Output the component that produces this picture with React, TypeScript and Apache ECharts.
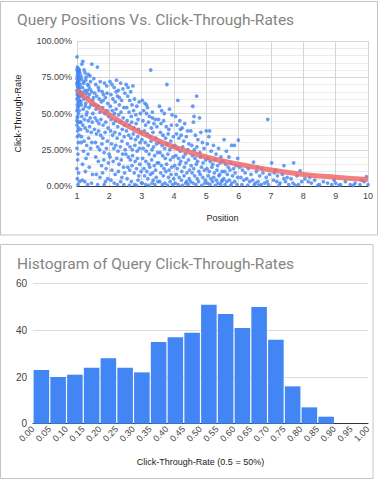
import React, { useEffect, useRef } from "react";
import * as echarts from "echarts";

// Scatter: [position, click-through-rate %]
const ctrPoints: [number, number][] = [
  // x 1.00-1.12
  [1.00,89],[1.01,82],[1.00,80],[1.02,78],[1.01,76],[1.03,79],[1.00,74],[1.02,72],[1.04,81],[1.01,70],[1.03,68],[1.00,66],[1.05,77],[1.02,64],[1.04,62],[1.00,60],[1.06,75],[1.03,58],[1.01,56],[1.05,71],[1.07,80],[1.02,54],[1.00,52],[1.04,50],[1.08,73],[1.01,47],[1.03,44],[1.00,42],[1.06,67],[1.09,78],[1.02,38],[1.05,61],[1.01,34],[1.04,30],[1.00,26],[1.07,63],[1.03,22],[1.10,70],[1.02,18],[1.00,12],[1.05,9],[1.01,5],[1.08,3],[1.03,1],[1.11,65],[1.06,57],[1.12,76],[1.09,59],[1.00,71],[1.02,69],[1.04,73],[1.01,63],[1.06,79],[1.03,75],[1.08,68],[1.10,62],[1.05,55],[1.07,52],[1.12,58],[1.00,45],[1.02,48],[1.04,40],[1.06,35],[1.09,44],[1.11,39],
  // x 1.12-1.5
  [1.15,84],[1.18,86],[1.22,80],[1.25,78],[1.14,74],[1.20,72],[1.28,75],[1.33,70],[1.17,68],[1.24,66],[1.30,64],[1.36,69],[1.42,72],[1.46,84],[1.40,67],[1.16,62],[1.21,60],[1.27,57],[1.34,61],[1.38,63],[1.45,65],[1.48,59],[1.13,56],[1.19,53],[1.26,55],[1.31,51],[1.37,54],[1.43,56],[1.49,50],[1.15,48],[1.23,46],[1.29,49],[1.35,45],[1.41,47],[1.47,44],[1.18,42],[1.25,40],[1.32,38],[1.39,41],[1.44,37],[1.14,34],[1.22,31],[1.30,28],[1.36,33],[1.46,30],[1.20,24],[1.28,19],[1.34,22],[1.42,26],[1.17,15],[1.26,10],[1.38,13],[1.48,8],[1.16,4],[1.24,3],[1.33,1],[1.45,2],[1.12,44],[1.13,30],[1.40,76],[1.35,77],[1.27,73],[1.21,71],[1.19,64],[1.32,66],
  // x 1.5-2.0
  [1.52,74],[1.58,70],[1.63,82],[1.66,68],[1.72,72],[1.78,65],[1.85,71],[1.92,69],[1.55,64],[1.61,62],[1.69,60],[1.75,58],[1.82,63],[1.88,61],[1.95,57],[1.53,56],[1.59,53],[1.65,55],[1.71,51],[1.79,54],[1.86,50],[1.93,52],[1.98,48],[1.56,47],[1.62,45],[1.68,43],[1.74,46],[1.81,42],[1.89,44],[1.96,40],[1.54,39],[1.60,36],[1.67,38],[1.73,35],[1.80,33],[1.87,37],[1.94,31],[1.57,30],[1.64,27],[1.70,25],[1.77,29],[1.84,23],[1.91,26],[1.99,22],[1.58,20],[1.66,17],[1.76,14],[1.83,18],[1.90,12],[1.97,16],[1.60,8],[1.71,6],[1.79,9],[1.88,3],[1.95,5],[1.64,1],[1.84,1],[1.51,61],[1.68,66],[1.81,59],[1.93,64],
  // x 2.0-2.5
  [2.02,72],[2.08,70],[2.15,68],[2.22,73],[2.28,66],[2.35,71],[2.42,67],[2.48,64],[2.05,63],[2.11,60],[2.18,58],[2.25,62],[2.31,56],[2.38,59],[2.45,54],[2.03,55],[2.09,52],[2.16,50],[2.21,53],[2.29,49],[2.36,51],[2.43,47],[2.06,46],[2.13,43],[2.19,45],[2.26,41],[2.33,44],[2.40,39],[2.47,42],[2.04,38],[2.10,35],[2.17,37],[2.24,33],[2.32,36],[2.39,31],[2.46,34],[2.07,29],[2.14,26],[2.20,28],[2.27,24],[2.34,27],[2.41,22],[2.49,25],[2.02,20],[2.12,17],[2.23,19],[2.30,15],[2.37,18],[2.44,13],[2.08,11],[2.18,8],[2.28,10],[2.39,6],[2.47,9],[2.05,4],[2.15,2],[2.25,1],[2.35,3],[2.45,1],[2.21,65],[2.31,61],
  // x 2.5-3.0
  [2.52,70],[2.58,68],[2.66,65],[2.73,69],[2.57,62],[2.63,59],[2.70,56],[2.78,60],[2.85,55],[2.92,58],[2.54,54],[2.61,51],[2.68,48],[2.75,52],[2.82,49],[2.89,46],[2.96,50],[2.55,45],[2.62,42],[2.69,44],[2.76,40],[2.83,43],[2.90,39],[2.97,37],[2.53,38],[2.60,35],[2.67,33],[2.74,36],[2.81,32],[2.88,34],[2.95,30],[2.56,29],[2.64,27],[2.71,25],[2.79,28],[2.86,24],[2.93,26],[2.51,22],[2.59,20],[2.65,18],[2.72,21],[2.80,17],[2.87,19],[2.94,15],[2.57,13],[2.63,11],[2.70,14],[2.77,9],[2.84,12],[2.91,7],[2.98,10],[2.55,5],[2.68,3],[2.78,1],[2.89,4],[2.99,2],[2.62,0.5],[2.84,0.5],
  // x 3.0-3.5
  [3.02,59],[3.10,57],[3.28,80],[3.18,54],[3.06,52],[3.15,50],[3.24,48],[3.33,51],[3.42,46],[3.04,45],[3.12,42],[3.21,44],[3.30,40],[3.38,43],[3.47,41],[3.08,38],[3.17,36],[3.26,34],[3.35,37],[3.44,33],[3.01,32],[3.11,30],[3.20,28],[3.29,31],[3.37,27],[3.46,29],[3.05,26],[3.14,24],[3.23,22],[3.32,25],[3.40,21],[3.49,23],[3.03,19],[3.13,17],[3.22,15],[3.31,18],[3.39,14],[3.48,16],[3.07,12],[3.16,10],[3.25,13],[3.34,9],[3.43,11],[3.09,7],[3.19,5],[3.27,8],[3.36,4],[3.45,6],[3.02,2],[3.12,1],[3.22,0.5],[3.32,2],[3.41,1],[3.50,3],[3.15,56],[3.33,47],
  // x 3.5-4.0
  [3.55,55],[3.62,52],[3.78,70],[3.70,50],[3.86,53],[3.94,49],[3.52,46],[3.60,43],[3.68,45],[3.76,41],[3.84,39],[3.92,42],[3.58,37],[3.66,35],[3.74,33],[3.82,36],[3.90,31],[3.98,34],[3.54,30],[3.63,28],[3.71,26],[3.79,29],[3.87,25],[3.95,27],[3.57,23],[3.65,21],[3.73,19],[3.81,22],[3.89,18],[3.97,20],[3.53,16],[3.61,14],[3.69,12],[3.77,15],[3.85,11],[3.93,13],[3.59,9],[3.67,7],[3.75,10],[3.83,6],[3.91,8],[3.99,5],[3.56,3],[3.64,1],[3.72,2],[3.80,0.5],[3.88,3],[3.96,1],
  // x 4.0-4.5
  [4.12,59],[4.05,48],[4.18,45],[4.25,40],[4.33,43],[4.42,38],[4.08,36],[4.15,33],[4.22,35],[4.30,31],[4.38,34],[4.46,29],[4.03,28],[4.11,26],[4.19,24],[4.27,27],[4.35,22],[4.43,25],[4.06,21],[4.14,19],[4.21,17],[4.29,20],[4.37,16],[4.45,18],[4.02,14],[4.10,12],[4.17,15],[4.24,10],[4.32,13],[4.40,9],[4.48,11],[4.07,8],[4.16,6],[4.23,4],[4.31,7],[4.39,3],[4.47,5],[4.04,2],[4.13,1],[4.26,0.5],[4.36,2],[4.44,1],[4.20,39],[4.09,42],
  // x 4.5-5.0
  [4.70,62],[4.58,55],[4.79,47],[4.62,48],[4.52,38],[4.66,35],[4.74,32],[4.88,30],[4.55,28],[4.63,25],[4.71,27],[4.80,23],[4.93,26],[4.57,21],[4.65,19],[4.73,17],[4.82,20],[4.90,16],[4.98,18],[4.53,14],[4.61,12],[4.69,15],[4.77,10],[4.85,13],[4.94,11],[4.56,9],[4.64,7],[4.72,5],[4.81,8],[4.89,6],[4.97,4],[4.51,3],[4.59,2],[4.68,1],[4.76,3],[4.86,0.5],[4.95,2],[4.60,44],[4.83,37],
  // x 5.0-5.5
  [5.00,38],[5.10,38],[5.08,34],[5.03,29],[5.15,24],[5.22,28],[5.30,22],[5.38,26],[5.45,20],[5.05,19],[5.12,17],[5.20,15],[5.27,18],[5.35,14],[5.43,16],[5.02,12],[5.09,10],[5.17,13],[5.25,9],[5.33,11],[5.41,8],[5.49,10],[5.06,7],[5.14,5],[5.23,6],[5.31,4],[5.39,7],[5.47,3],[5.04,2],[5.11,1],[5.19,3],[5.28,0.5],[5.36,2],[5.44,1],[5.50,4],
  // x 5.5-6.0
  [5.55,32],[5.78,28],[5.87,28],[5.97,19],[5.62,24],[5.70,20],[5.52,17],[5.60,15],[5.68,13],[5.76,16],[5.84,12],[5.92,14],[5.57,10],[5.65,8],[5.73,11],[5.81,7],[5.89,9],[5.97,6],[5.54,5],[5.63,3],[5.71,4],[5.79,2],[5.88,3],[5.95,1],[5.58,1],[5.75,0.5],[5.99,31.7],
  // x 6.0-7.0
  [6.03,13],[6.12,11],[6.20,9],[6.30,12],[6.46,16.5],[6.38,8],[6.55,10],[6.65,7],[6.75,9],[6.85,6],[6.95,8],[6.90,46],[6.07,6],[6.16,4],[6.25,5],[6.34,3],[6.43,4],[6.52,2],[6.60,3],[6.70,1],[6.80,2],[6.92,1],[6.10,1],[6.28,0.5],[6.48,1],[6.62,0.5],[6.88,3],[6.58,13],[6.72,12],
  // x 7.0-8.0
  [7.02,16],[7.40,14],[7.70,16],[7.90,10.5],[7.10,9],[7.20,7],[7.35,8],[7.50,6],[7.62,5],[7.80,7],[7.08,4],[7.18,3],[7.28,2],[7.45,3],[7.55,1],[7.68,2],[7.85,1],[7.95,3],[7.25,0.5],[7.75,0.5],[7.40,5],[7.15,11],
  // x 8.0-10
  [8.05,5],[8.15,3],[8.25,2],[8.35,4],[8.50,1],[8.62,3],[8.75,2],[8.88,1],[9.00,2],[9.15,1],[9.30,3],[9.45,1],[9.60,2],[9.75,1],[9.88,3],[9.95,6.4],[10.0,1],[8.45,0.5],[9.10,0.5],[9.55,0.5],[9.80,4],[8.20,6],[8.95,4],
];

// Trend line: [position, %]
const trendPoints: [number, number][] = [
  [1, 66], [2, 49], [3, 36.5], [4, 27], [5, 20], [6, 15], [7, 11], [8, 8], [9, 6], [10, 4.5],
];

// Histogram bins
const binStarts: number[] = [0, 0.05, 0.1, 0.15, 0.2, 0.25, 0.3, 0.35, 0.4, 0.45, 0.5, 0.55, 0.6, 0.65, 0.7, 0.75, 0.8, 0.85, 0.9, 0.95];
const binCounts: number[] = [23, 20, 21, 24, 28, 24, 22, 35, 37, 39, 51, 47, 41, 50, 36, 16, 7, 3, 0, 0];
const binWidth = 0.05;

const topTitle = "Query Positions Vs. Click-Through-Rates";
const bottomTitle = "Histogram of Query Click-Through-Rates";

export default function App() {
  const ref = useRef<HTMLDivElement>(null);
  useEffect(() => {
    document.body.style.margin = "0";
    const chart = echarts.init(ref.current!, null, { renderer: "svg" });
    const font = "Roboto, Arial, sans-serif";
    const labelStyle = { color: "#444", fontSize: 9, fontFamily: "Arial, sans-serif" };
    chart.setOption({
      animation: false,
      backgroundColor: "#fff",
      title: [
        { text: topTitle, left: 12, top: 7, textStyle: { color: "#858585", fontSize: 15.5, fontWeight: "normal", fontFamily: font } },
        { text: bottomTitle, left: 12, top: 251, textStyle: { color: "#858585", fontSize: 15.5, fontWeight: "normal", fontFamily: font } },
      ],
      graphic: [
        { type: "rect", shape: { x: 0.5, y: 1.5, width: 377, height: 233.5 }, style: { fill: "none", stroke: "#c4c4c4", lineWidth: 1 }, silent: true },
        { type: "rect", shape: { x: 0.5, y: 244.5, width: 372.5, height: 234 }, style: { fill: "none", stroke: "#c4c4c4", lineWidth: 1 }, silent: true },
      ],
      grid: [
        { left: 77, right: 13, top: 41, height: 145 },
        { left: 33, right: 13, top: 283.7, height: 140 },
      ],
      xAxis: [
        {
          gridIndex: 0, type: "value", min: 1, max: 10, interval: 1,
          name: "Position", nameLocation: "middle", nameGap: 27,
          nameTextStyle: { color: "#222", fontSize: 9, fontFamily: "Arial, sans-serif" },
          axisLine: { show: true, onZero: false, lineStyle: { color: "#333" } },
          axisTick: { show: false },
          axisLabel: { ...labelStyle, margin: 5 },
          splitLine: { show: true, lineStyle: { color: "#d6d6d6" } },
        },
        {
          gridIndex: 1, type: "value", min: 0, max: 1, interval: 0.05,
          name: "Click-Through-Rate (0.5 = 50%)", nameLocation: "middle", nameGap: 34,
          nameTextStyle: { color: "#222", fontSize: 9, fontFamily: "Arial, sans-serif" },
          axisLine: { show: true, onZero: false, lineStyle: { color: "#333" } },
          axisTick: { show: false },
          axisLabel: { ...labelStyle, rotate: 45, margin: 4, formatter: (v: number) => v.toFixed(2) },
          splitLine: { show: false },
        },
      ],
      yAxis: [
        {
          gridIndex: 0, type: "value", min: 0, max: 100, interval: 25,
          name: "Click-Through-Rate", nameLocation: "middle", nameGap: 55, nameRotate: 90,
          nameTextStyle: { color: "#222", fontSize: 9, fontFamily: "Arial, sans-serif" },
          axisLine: { show: false },
          axisTick: { show: false },
          axisLabel: { ...labelStyle, margin: 5, formatter: (v: number) => v.toFixed(2) + "%" },
          splitLine: { show: true, lineStyle: { color: "#d6d6d6" } },
          minorTick: { show: false, splitNumber: 5 },
          minorSplitLine: { show: true, lineStyle: { color: "#ececec" } },
        },
        {
          gridIndex: 1, type: "value", min: 0, max: 60, interval: 20,
          axisLine: { show: false },
          axisTick: { show: false },
          axisLabel: { ...labelStyle, fontSize: 10, margin: 6 },
          splitLine: { show: true, lineStyle: { color: "#dcdcdc" } },
        },
      ],
      series: [
        {
          type: "scatter", xAxisIndex: 0, yAxisIndex: 0,
          data: ctrPoints, symbolSize: 3.8,
          itemStyle: { color: "#4285f4" },
        },
        {
          type: "line", xAxisIndex: 0, yAxisIndex: 0,
          data: trendPoints, smooth: true, symbol: "none",
          lineStyle: { color: "#ee6b6b", width: 5, opacity: 0.85 },
          z: 3,
        },
        {
          type: "custom", xAxisIndex: 1, yAxisIndex: 1,
          data: binStarts.map((s, i) => [s, s + binWidth, binCounts[i]]),
          encode: { x: [0, 1], y: 2 },
          renderItem: (params: any, api: any) => {
            const v = api.value(2);
            if (!v) return null;
            const p0 = api.coord([api.value(0), v]);
            const p1 = api.coord([api.value(1), 0]);
            return {
              type: "rect",
              shape: { x: p0[0] + 0.6, y: p0[1], width: p1[0] - p0[0] - 1.2, height: p1[1] - p0[1] },
              style: { fill: "#4285f4" },
            };
          },
        },
      ],
    });
    return () => chart.dispose();
  }, []);
  return <div ref={ref} style={{ position: "fixed", left: 0, top: 0, width: 381, height: 480 }} />;
}
